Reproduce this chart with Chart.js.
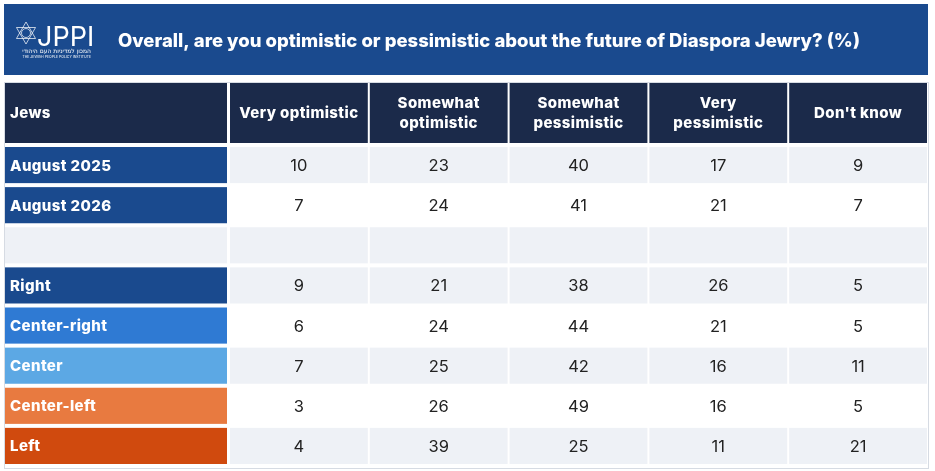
<!DOCTYPE html>
<html lang="en">
<head>
<meta charset="UTF-8">
<title>Diaspora Jewry outlook</title>
<style>
  html, body { margin: 0; padding: 0; background: #fff; }
  canvas { display: block; }
</style>
</head>
<body>
<canvas id="myChart" width="935" height="471"></canvas>
<script src="https://cdn.jsdelivr.net/npm/chart.js"></script>
<script>
var title = 'Overall, are you optimistic or pessimistic about the future of Diaspora Jewry? (%)';
var cornerLabel = 'Jews';

// column headings (one entry per line)
var columns = [
    ['Very optimistic'],
    ['Somewhat', 'optimistic'],
    ['Somewhat', 'pessimistic'],
    ['Very', 'pessimistic'],
    ["Don't know"]
];
var rows = ['August 2025', 'August 2026', '', 'Right', 'Center-right', 'Center', 'Center-left', 'Left'];

var veryOptimistic      = [10,  7, null,  9,  6,  7,  3,  4];
var somewhatOptimistic  = [23, 24, null, 21, 24, 25, 26, 39];
var somewhatPessimistic = [40, 41, null, 38, 44, 42, 49, 25];
var veryPessimistic     = [17, 21, null, 26, 21, 16, 16, 11];
var dontKnow            = [ 9,  7, null,  5,  5, 11,  5, 21];

var series = [veryOptimistic, somewhatOptimistic, somewhatPessimistic, veryPessimistic, dontKnow];

// styles
var bandColor = '#1a4a8e';
var headColor = '#1b2a4a';
var stripe = '#eef1f6';
var rowLabelColors = ['#1a4a8e', '#1a4a8e', '#eef1f6', '#1a4a8e', '#2f7ad3', '#5ca8e4', '#e87a40', '#d04a0e'];
var rowShaded = [true, false, true, true, false, true, false, true];
var FONT = 'Inter, Roboto, sans-serif';

var datasets = series.map(function (vals, c) {
    var pts = [];
    vals.forEach(function (v, r) {
        if (v !== null) pts.push({ x: c, y: r, v: v });
    });
    return { label: columns[c].join(' '), data: pts, pointRadius: 0, pointHoverRadius: 0, showLine: false };
});

function drawLogo(ctx) {
    ctx.save();
    ctx.strokeStyle = 'rgba(255,255,255,0.8)';
    ctx.lineWidth = 0.9;
    var cx = 26, cy = 33, r = 11;
    for (var k = 0; k < 2; k++) {
        ctx.beginPath();
        for (var i = 0; i < 3; i++) {
            var a = -Math.PI / 2 + k * Math.PI + i * 2 * Math.PI / 3;
            var px = cx + r * Math.cos(a), py = cy + r * Math.sin(a);
            if (i === 0) ctx.moveTo(px, py); else ctx.lineTo(px, py);
        }
        ctx.closePath();
        ctx.stroke();
    }
    ctx.beginPath();
    ctx.arc(cx, cy, 4.5, 0, Math.PI * 2);
    ctx.stroke();
    ctx.fillStyle = '#fff';
    ctx.textBaseline = 'alphabetic';
    ctx.textAlign = 'left';
    ctx.font = '400 27px ' + FONT;
    ctx.fillText('JPPI', 37, 46);
    ctx.font = '6px "DejaVu Sans", sans-serif';
    ctx.textAlign = 'right';
    ctx.fillText('המכון למדיניות העם היהודי', 91, 53);
    ctx.font = '3.5px ' + FONT;
    ctx.fillText('THE JEWISH PEOPLE POLICY INSTITUTE', 91, 58);
    ctx.restore();
}

var tablePlugin = {
    id: 'tablePlugin',
    beforeDraw: function (chart) {
        var ctx = chart.ctx;
        var area = chart.chartArea;
        var xs = chart.scales.x, ys = chart.scales.y;
        var colW = xs.getPixelForValue(1) - xs.getPixelForValue(0);
        var rowH = ys.getPixelForValue(1) - ys.getPixelForValue(0);
        var labelLeft = 5, labelRight = area.left - 2;
        var headTop = area.top - 64, headBottom = area.top - 4;

        ctx.save();
        ctx.fillStyle = '#fff';
        ctx.fillRect(0, 0, chart.width, chart.height);

        // title band
        ctx.fillStyle = bandColor;
        ctx.fillRect(4, 4, area.right - 4, 71);
        drawLogo(ctx);
        ctx.fillStyle = '#fff';
        ctx.font = '800 18px ' + FONT;
        var tw = ctx.measureText(title).width;
        var fs = 18 * 742 / tw;
        ctx.font = '800 ' + fs.toFixed(2) + 'px ' + FONT;
        ctx.textAlign = 'left';
        ctx.textBaseline = 'middle';
        ctx.fillText(title, 118, 41);

        // table frame
        ctx.fillStyle = '#d6dbe3';
        ctx.fillRect(4, headTop - 1, area.right - 3, area.bottom - headTop + 2);
        ctx.fillStyle = '#fff';
        ctx.fillRect(5, headTop, area.right - 5, area.bottom - headTop);

        // header row
        ctx.fillStyle = headColor;
        ctx.fillRect(labelLeft, headTop, labelRight - labelLeft, headBottom - headTop);
        columns.forEach(function (lines, c) {
            var cx = xs.getPixelForValue(c);
            ctx.fillRect(cx - colW / 2 + 1, headTop, colW - 2, headBottom - headTop);
        });
        ctx.fillStyle = '#fff';
        ctx.font = '800 15px ' + FONT;
        ctx.letterSpacing = '0.4px';
        ctx.textBaseline = 'middle';
        var headMid = (headTop + headBottom) / 2;
        ctx.textAlign = 'left';
        ctx.fillText(cornerLabel, 10, headMid);
        ctx.textAlign = 'center';
        columns.forEach(function (lines, c) {
            var cx = xs.getPixelForValue(c);
            var lh = 20;
            var y0 = headMid - (lines.length - 1) * lh / 2;
            lines.forEach(function (t, i) {
                ctx.fillText(t, cx, y0 + i * lh);
            });
        });

        // body rows
        rows.forEach(function (label, r) {
            var cy = ys.getPixelForValue(r);
            var top = cy - rowH / 2;
            var h = rowH - 4;
            ctx.fillStyle = rowLabelColors[r];
            ctx.fillRect(labelLeft, top, labelRight - labelLeft, h);
            ctx.fillStyle = rowShaded[r] ? stripe : '#fff';
            columns.forEach(function (lines, c) {
                var cx = xs.getPixelForValue(c);
                ctx.fillRect(cx - colW / 2 + 1, top, colW - 2, h);
            });
            if (label) {
                ctx.fillStyle = '#fff';
                ctx.font = '800 15px ' + FONT;
                ctx.textAlign = 'left';
                ctx.textBaseline = 'middle';
                ctx.fillText(label, 10, top + h / 2 + 1);
            }
        });
        ctx.restore();
    },
    afterDatasetsDraw: function (chart) {
        var ctx = chart.ctx;
        var ys = chart.scales.y;
        var rowH = ys.getPixelForValue(1) - ys.getPixelForValue(0);
        ctx.save();
        ctx.fillStyle = '#222';
        ctx.font = '400 16.5px ' + FONT;
        ctx.textAlign = 'center';
        ctx.textBaseline = 'middle';
        chart.data.datasets.forEach(function (ds, i) {
            var meta = chart.getDatasetMeta(i);
            meta.data.forEach(function (el, j) {
                ctx.fillText(String(ds.data[j].v), el.x, el.y - rowH / 2 + (rowH - 4) / 2 + 1);
            });
        });
        ctx.restore();
    }
};

var ctx = document.getElementById('myChart').getContext('2d');
var myChart = new Chart(ctx, {
    type: 'scatter',
    data: { datasets: datasets },
    options: {
        responsive: false,
        animation: false,
        layout: { padding: { left: 229, top: 147, right: 7, bottom: 3 } },
        scales: {
            x: { type: 'linear', min: -0.5, max: columns.length - 0.5, display: false },
            y: { type: 'linear', min: -0.5, max: rows.length - 0.5, reverse: true, display: false }
        },
        plugins: {
            legend: { display: false },
            tooltip: { enabled: false }
        }
    },
    plugins: [tablePlugin]
});
</script>
</body>
</html>
